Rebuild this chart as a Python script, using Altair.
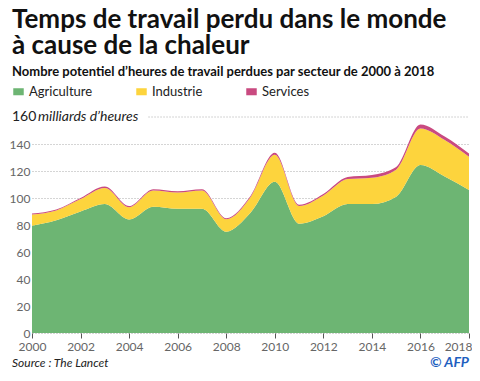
import altair as alt
import pandas as pd

years = list(range(2000, 2019))
agriculture = [79.5, 83.5, 90, 95.5, 84, 93.5, 92, 92, 75, 89, 112, 81, 86.5, 95.5, 95.5, 101, 124.5, 116, 106]
industrie = [8.3, 7.3, 9.2, 12, 9.2, 12, 12, 13.5, 9.2, 11.5, 20, 13, 15.3, 18.5, 19.5, 20, 27, 27, 24.5]
services = [0.7, 0.7, 0.8, 1, 0.8, 1, 1, 1, 0.8, 1, 1.5, 1, 1.2, 1.5, 2, 2, 3, 2.5, 2.5]
sectors = ["Agriculture", "Industrie", "Services"]
colors = ["#6db573", "#fdd43d", "#c94a80"]
y_ticks = [0, 20, 40, 60, 80, 100, 120, 140, 160]
x_ticks = list(range(2000, 2019, 2))

rows = []
for i, y in enumerate(years):
    for k, (s, vals) in enumerate(zip(sectors, [agriculture, industrie, services])):
        rows.append({"year": y, "sector": s, "value": vals[i], "ord": k})
df = pd.DataFrame(rows)

FONT = "Lato"
yscale = alt.Scale(domain=[0, 160], nice=False)
xscale = alt.Scale(domain=[2000, 2018], nice=False, zero=False)
xaxis = alt.Axis(values=x_ticks, format="d", grid=False,
                 domain=False, tickColor="#555", tickSize=5, labelColor="#666",
                 labelFontSize=12, labelFont=FONT, labelPadding=3, title=None,
                 labelFlush=False, labelOverlap=False,
                 labelAlign={"condition": {"test": "datum.value == 2018", "value": "right"}, "value": "center"},
                 labelOffset={"condition": {"test": "datum.value == 2018", "value": 3}, "value": 0})
yaxis = alt.Axis(values=y_ticks[:-1], grid=True, gridDash=[1, 2], gridColor="#aaa",
                 domain=False, ticks=False, labelColor="#666", labelFontSize=12,
                 labelFont=FONT, labelPadding=2, title=None, labelOverlap=False,
                 labelFlush=False)

area = alt.Chart(df).mark_area(interpolate="monotone").encode(
    x=alt.X("year:Q", scale=xscale, axis=xaxis),
    y=alt.Y("value:Q", stack="zero", scale=yscale, axis=yaxis),
    color=alt.Color("sector:N", scale=alt.Scale(domain=sectors, range=colors),
                    legend=alt.Legend(orient="none", legendX=-20, legendY=-32, direction="horizontal",
                                      title=None, symbolType="M-1,-0.67H1V0.67H-1Z", symbolSize=110,
                                      symbolOpacity=1, labelFontSize=13, labelFont=FONT,
                                      labelColor="#222", columnPadding=42, symbolStrokeWidth=0)),
    order=alt.Order("ord:Q"),
)

grid160 = alt.Chart(pd.DataFrame({"x": [2004.8], "x2": [2018], "y": [y_ticks[-1]]})).mark_rule(
    strokeDash=[1, 2], color="#aaa").encode(
    x=alt.X("x:Q", scale=xscale, axis=xaxis), x2="x2:Q",
    y=alt.Y("y:Q", scale=yscale, axis=yaxis))

label160 = alt.Chart(pd.DataFrame({"y": [y_ticks[-1]], "t": ["160"]})).mark_text(
    align="left", baseline="middle", font=FONT, fontSize=14, color="#222", dx=-20).encode(
    x=alt.value(0), y=alt.Y("y:Q", scale=yscale, axis=yaxis), text="t:N")
unit = alt.Chart(pd.DataFrame({"y": [y_ticks[-1]], "t": ["milliards d’heures"]})).mark_text(
    align="left", baseline="middle", font=FONT, fontSize=14, fontStyle="italic", color="#222", dx=6).encode(
    x=alt.value(0), y=alt.Y("y:Q", scale=yscale, axis=yaxis), text="t:N")

source = alt.Chart(pd.DataFrame({"t": ["Source : The Lancet"]})).mark_text(
    align="left", baseline="alphabetic", font=FONT, fontSize=12, fontStyle="italic", color="#222").encode(
    x=alt.value(-20), y=alt.value(250), text="t:N")
afp = alt.Chart(pd.DataFrame({"t": ["© AFP"]})).mark_text(
    align="right", baseline="alphabetic", font=FONT, fontSize=14, fontWeight="bold", fontStyle="italic",
    color="#1f5fbf").encode(x=alt.value(437), y=alt.value(250), text="t:N")

chart = alt.layer(area, grid160, label160, unit, source, afp).properties(
    width=437, height=216,
    padding={"left": 24, "top": 109, "right": 3, "bottom": 40},
    autosize=alt.AutoSizeParams(type="none"),
    title=alt.TitleParams(
        text=["Temps de travail perdu dans le monde", "à cause de la chaleur"],
        subtitle="Nombre potentiel d’heures de travail perdues par secteur de 2000 à 2018",
        anchor="start", dx=-20, font=FONT, fontSize=26, fontWeight="bold", color="#111",
        lineHeight=26, subtitleFont=FONT, subtitleFontSize=13, subtitleFontWeight="bold",
        subtitleColor="#111", subtitlePadding=7, offset=6, frame="group"),
).configure_view(stroke=None)

chart.save("out.html", embed_options={"renderer": "svg", "actions": False})
